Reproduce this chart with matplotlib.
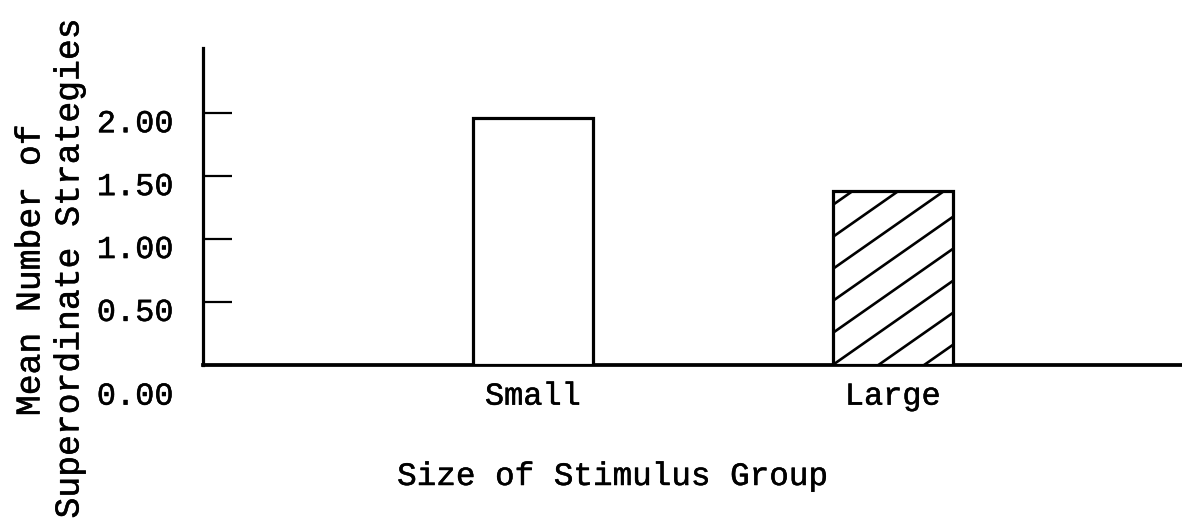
import matplotlib
matplotlib.use("Agg")
import matplotlib.pyplot as plt
import matplotlib.patheffects as pe
import matplotlib.transforms as mtransforms
import numpy as np

# ─── data ────────────────────────────────────────────────────────────────────
groups = ["Small", "Large"]
mean_strategies = [1.96, 1.38]
ytick_values = [0.0, 0.5, 1.0, 1.5, 2.0]
ytick_labels = ["0.00", "0.50", "1.00", "1.50", "2.00"]

FONT = "Liberation Mono"
LW = 2.3
# a touch heavier than regular Courier, like the typewriter originals
INK = [pe.withStroke(linewidth=0.35, foreground="black")]

fig = plt.figure(figsize=(11.82, 5.23), dpi=100)
ax = fig.add_axes([203 / 1182, 158 / 523, 979 / 1182, 317 / 523])

x = np.arange(len(groups))
bars = ax.bar(x, mean_strategies, width=0.335, facecolor="white",
              edgecolor="black", linewidth=LW, zorder=3)

ax.set_xlim(-0.917, 1.803)
ax.set_ylim(0, 2.52)

for side in ("top", "right"):
    ax.spines[side].set_visible(False)
ax.spines["left"].set_linewidth(LW)
ax.spines["bottom"].set_linewidth(LW + 0.4)

ax.set_yticks(ytick_values)
ax.set_yticklabels(ytick_labels, fontfamily=FONT, fontsize=23, va="top",
                   path_effects=INK)
ax.tick_params(axis="y", direction="in", length=21, width=1.6, pad=21)

# typewritten labels sit a little off the ticks; the 0.00 one lower still
for lab in ax.get_yticklabels():
    dy = -12 if lab.get_text() == "0.00" else 3
    lab.set_transform(lab.get_transform()
                      + mtransforms.ScaledTranslation(0, dy / 72, fig.dpi_scale_trans))

ax.set_xticks(x)
ax.set_xticklabels(groups, fontfamily=FONT, fontsize=23, path_effects=INK)
ax.tick_params(axis="x", length=0, pad=12)

# single-direction diagonal hatch on the "Large" bar (wider spacing than mpl's hatch)
patch = bars[1]
x0, y0 = ax.transData.transform((patch.get_x(), 0))
x1, y1 = ax.transData.transform((patch.get_x() + patch.get_width(), patch.get_height()))
slope = 0.70
spacing = 32
inv = ax.transData.inverted()
for k in range(-12, 12):
    px = np.array([x0, x1])
    py = y0 + k * spacing + slope * (px - x0)
    pts = inv.transform(np.column_stack([px, py]))
    ln, = ax.plot(pts[:, 0], pts[:, 1], color="black", linewidth=1.9, zorder=4)
    ln.set_clip_path(patch)

fig.text(30 / 1182, 1 - 270 / 523, "Mean Number of", rotation=90,
         ha="center", va="center", fontfamily=FONT, fontsize=25, path_effects=INK)
fig.text(69 / 1182, 1 - 268 / 523, "Superordinate Strategies", rotation=90,
         ha="center", va="center", fontfamily=FONT, fontsize=25, path_effects=INK)
fig.text(613 / 1182, 1 - 485 / 523, "Size of Stimulus Group",
         ha="center", va="baseline", fontfamily=FONT, fontsize=23.5, path_effects=INK)

fig.savefig("out.png", dpi=100)
